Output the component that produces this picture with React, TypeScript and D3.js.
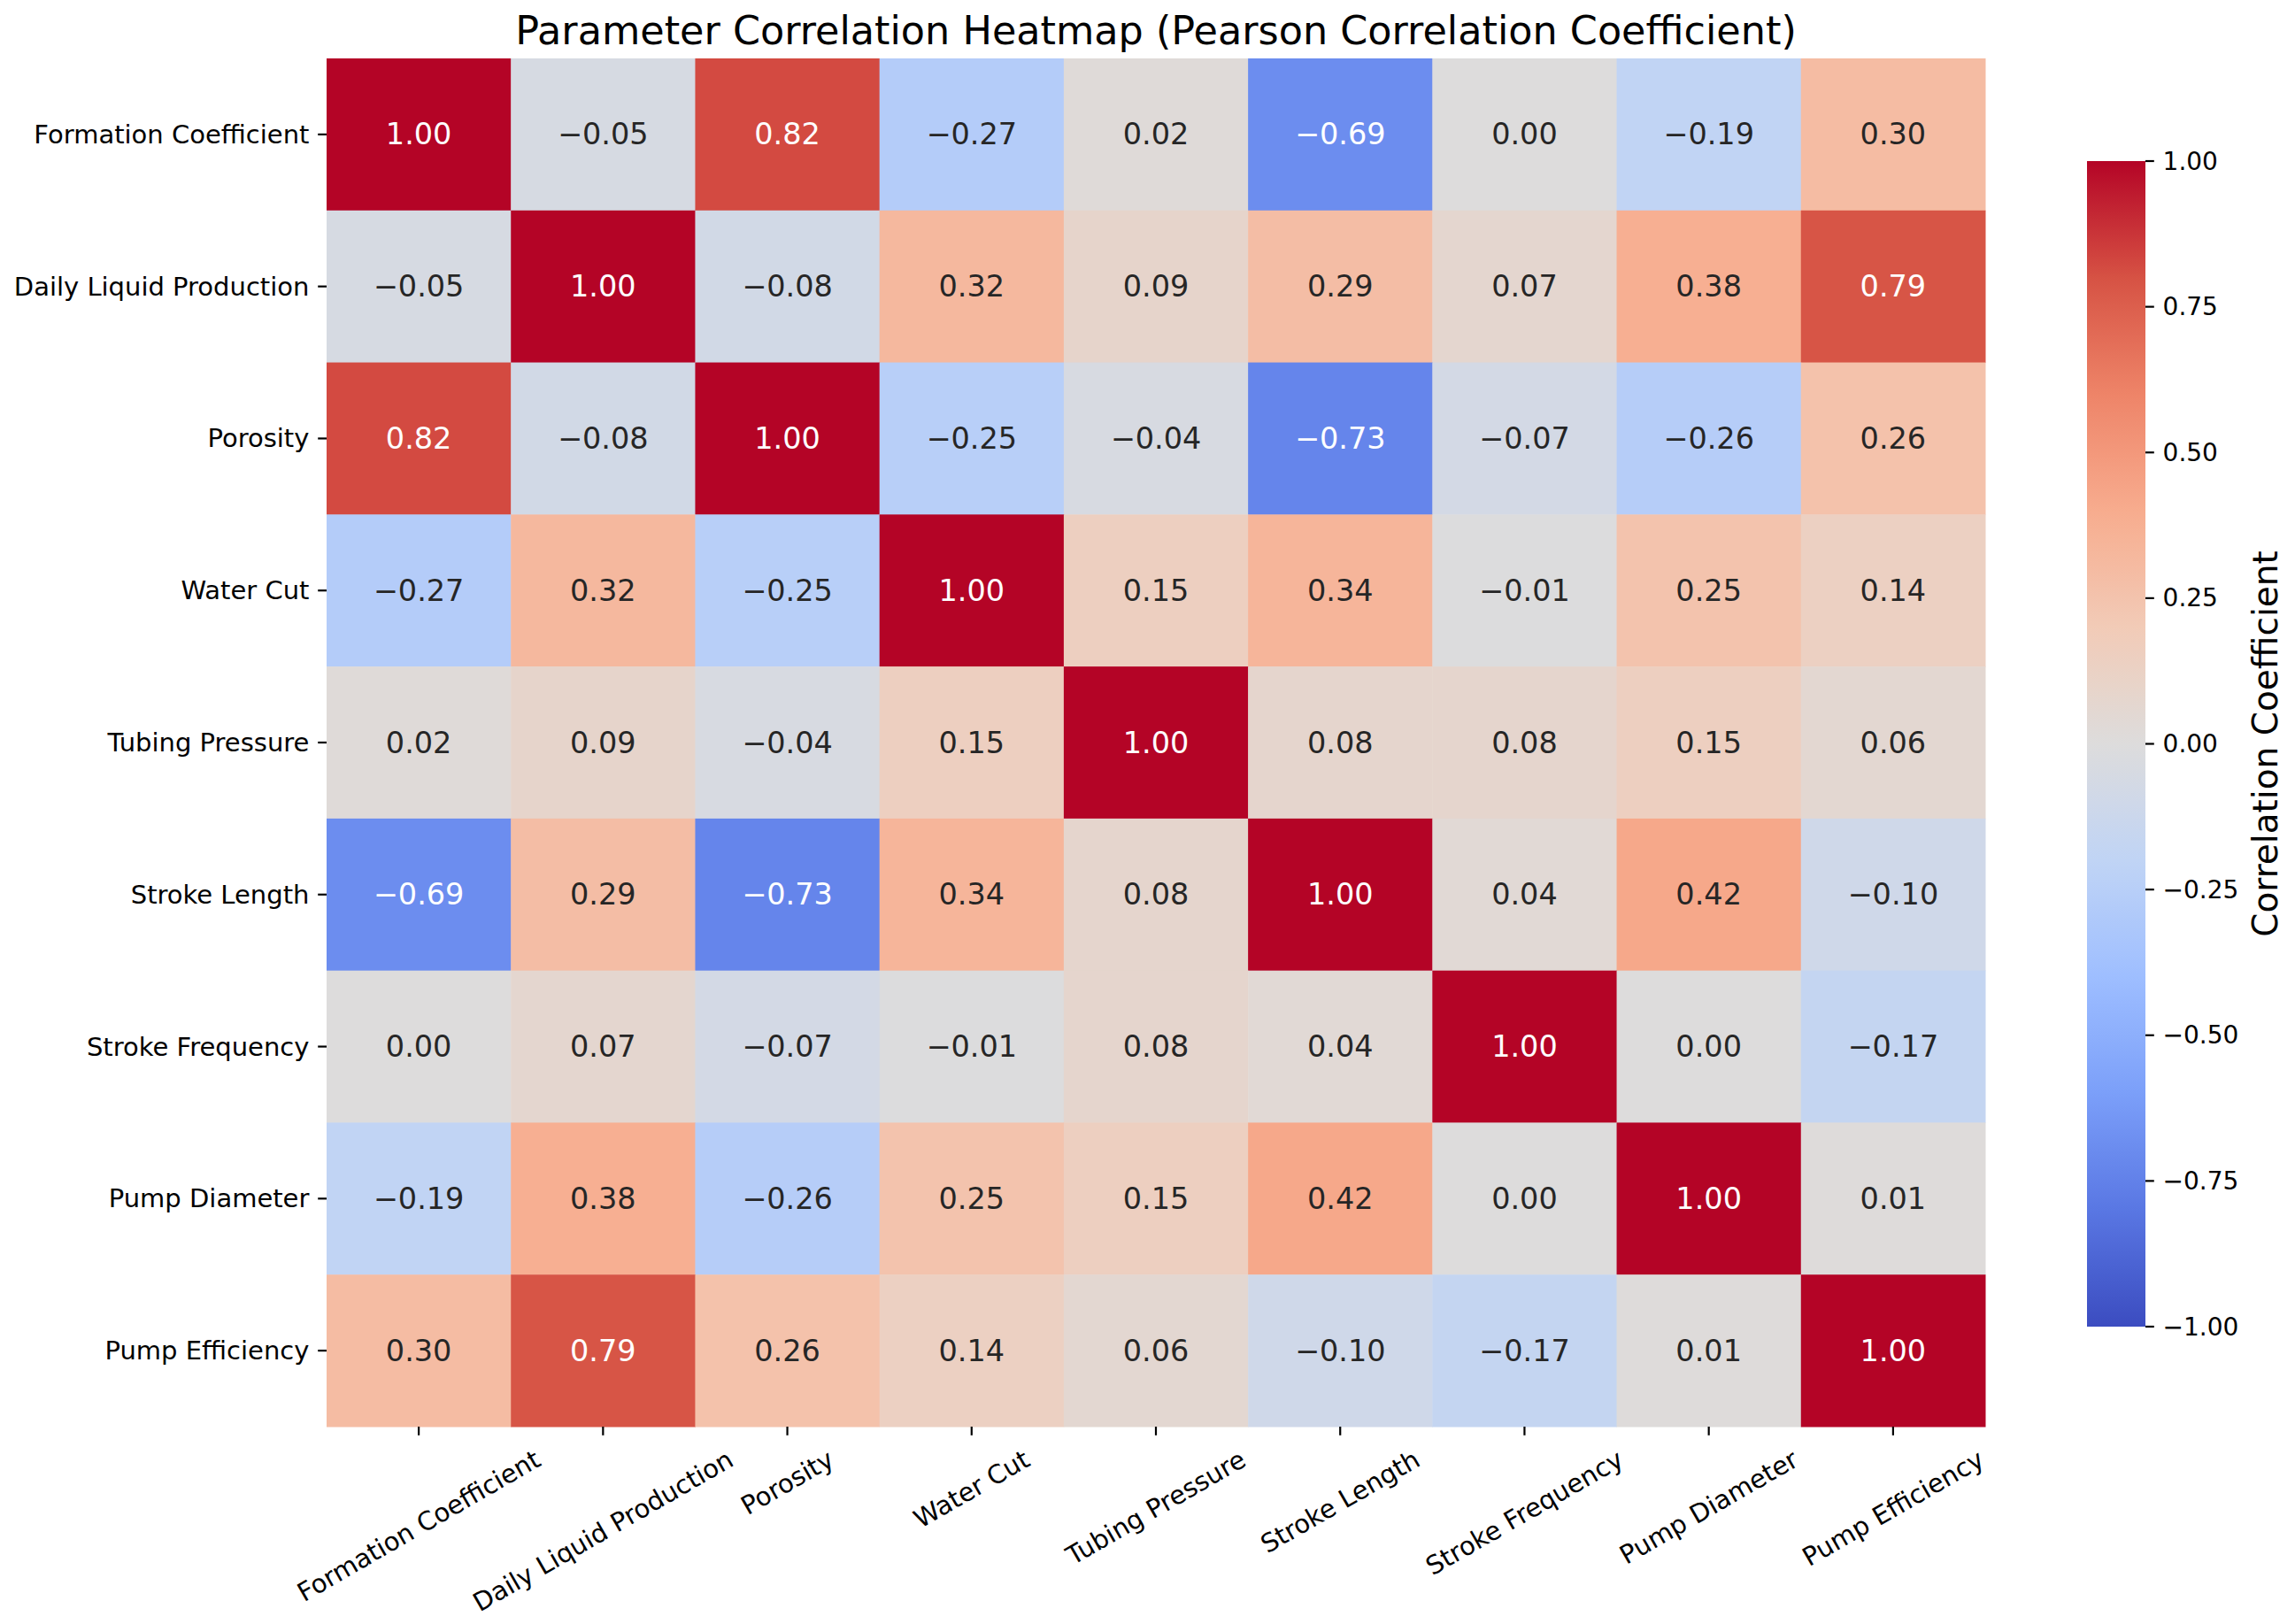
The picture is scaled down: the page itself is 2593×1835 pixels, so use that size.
import React from "react";
import * as d3 from "d3";

const labels = [
  "Formation Coefficient",
  "Daily Liquid Production",
  "Porosity",
  "Water Cut",
  "Tubing Pressure",
  "Stroke Length",
  "Stroke Frequency",
  "Pump Diameter",
  "Pump Efficiency",
];

const matrix: number[][] = [
  [1.0, -0.05, 0.82, -0.27, 0.02, -0.69, 0.0, -0.19, 0.3],
  [-0.05, 1.0, -0.08, 0.32, 0.09, 0.29, 0.07, 0.38, 0.79],
  [0.82, -0.08, 1.0, -0.25, -0.04, -0.73, -0.07, -0.26, 0.26],
  [-0.27, 0.32, -0.25, 1.0, 0.15, 0.34, -0.01, 0.25, 0.14],
  [0.02, 0.09, -0.04, 0.15, 1.0, 0.08, 0.08, 0.15, 0.06],
  [-0.69, 0.29, -0.73, 0.34, 0.08, 1.0, 0.04, 0.42, -0.1],
  [0.0, 0.07, -0.07, -0.01, 0.08, 0.04, 1.0, 0.0, -0.17],
  [-0.19, 0.38, -0.26, 0.25, 0.15, 0.42, 0.0, 1.0, 0.01],
  [0.3, 0.79, 0.26, 0.14, 0.06, -0.1, -0.17, 0.01, 1.0],
];

const colorbarTicks = [-1, -0.75, -0.5, -0.25, 0, 0.25, 0.5, 0.75, 1];

const titleText = "Parameter Correlation Heatmap (Pearson Correlation Coefficient)";
const colorbarLabel = "Correlation Coefficient";

// matplotlib "coolwarm" sampled at 11 points
const coolwarm = [
  "#3b4cc0", "#5977e3", "#7b9ff9", "#9ebeff", "#c0d4f5", "#dddcdc",
  "#f2cbb7", "#f7ac8e", "#ee8468", "#d65244", "#b40426",
];

const W = 2593;
const H = 1835;
const FONT = "'DejaVu Sans', sans-serif";

const fmt = (v: number, d: number) => {
  const s = Math.abs(v).toFixed(d);
  return v < 0 && Number(s) !== 0 ? "\u2212" + s : s;
};

let measureCtx: CanvasRenderingContext2D | null = null;
const measure = (s: string, size: number) => {
  if (!measureCtx && typeof document !== "undefined") {
    measureCtx = document.createElement("canvas").getContext("2d");
  }
  if (!measureCtx) return s.length * 0.53 * size;
  measureCtx.font = `${size}px 'DejaVu Sans', sans-serif`;
  return measureCtx.measureText(s).width;
};

export default function App() {
  const left = 369, right = 2243, top = 66, bottom = 1612;
  const x = d3.scaleBand<string>().domain(labels).range([left, right]).padding(0);
  const y = d3.scaleBand<string>().domain(labels).range([top, bottom]).padding(0);
  const color = d3
    .scaleLinear<string>()
    .domain(d3.range(11).map((i) => -1 + (i * 2) / 10))
    .range(coolwarm)
    .interpolate(d3.interpolateRgb)
    .clamp(true);

  const cbX = 2358, cbW = 66, cbTop = 182, cbBottom = 1499;
  const cbScale = d3.scaleLinear().domain([-1, 1]).range([cbBottom, cbTop]);
  const gradStops = d3.range(0, 41).map((i) => i / 40);

  const tickLen = 9.8, tickPad = 9.8;
  const tickFont = 29;
  const lum = (c: string) => {
    const rgb = d3.rgb(c);
    const f = (v: number) => {
      const s = v / 255;
      return s <= 0.03928 ? s / 12.92 : Math.pow((s + 0.055) / 1.055, 2.4);
    };
    return 0.2126 * f(rgb.r) + 0.7152 * f(rgb.g) + 0.0722 * f(rgb.b);
  };

  return (
    <svg
      width={W}
      height={H}
      viewBox={`0 0 ${W} ${H}`}
      style={{ position: "absolute", left: 0, top: 0, background: "#fff" }}
      fontFamily={FONT}
    >
      <defs>
        <linearGradient id="cbgrad" x1="0" y1="1" x2="0" y2="0">
          {gradStops.map((t) => (
            <stop key={t} offset={t} stopColor={color(-1 + 2 * t)} />
          ))}
        </linearGradient>
      </defs>
      <rect x={0} y={0} width={W} height={H} fill="#fff" />

      <text x={(left + right) / 2} y={50} textAnchor="middle" fontSize={44.5} fill="#000">
        {titleText}
      </text>

      {matrix.map((row, i) =>
        row.map((v, j) => {
          const c = color(v);
          const cx = x(labels[j])! + x.bandwidth() / 2;
          const cy = y(labels[i])! + y.bandwidth() / 2;
          return (
            <g key={`${i}-${j}`}>
              <rect
                x={x(labels[j])!}
                y={y(labels[i])!}
                width={x.bandwidth() + 0.5}
                height={y.bandwidth() + 0.5}
                fill={c}
              />
              <text
                x={cx}
                y={cy}
                textAnchor="middle"
                dominantBaseline="central"
                fontSize={33.5}
                fill={lum(c) < 0.408 ? "#ffffff" : "#262626"}
              >
                {fmt(v, 2)}
              </text>
            </g>
          );
        })
      )}

      {/* y axis ticks */}
      {labels.map((l) => {
        const cy = y(l)! + y.bandwidth() / 2;
        return (
          <g key={`y-${l}`}>
            <line x1={left - tickLen} x2={left} y1={cy} y2={cy} stroke="#000" strokeWidth={2.2} />
            <text
              x={left - tickLen - tickPad}
              y={cy}
              textAnchor="end"
              dominantBaseline="central"
              fontSize={tickFont}
              fill="#000"
            >
              {l}
            </text>
          </g>
        );
      })}

      {/* x axis ticks */}
      {labels.map((l) => {
        const cx = x(l)! + x.bandwidth() / 2;
        const ty = bottom + tickLen + tickPad;
        const w = measure(l, tickFont);
        const hgt = tickFont * 1.17;
        const ang = (30 * Math.PI) / 180;
        const bboxH = w * Math.sin(ang) + hgt * Math.cos(ang);
        const cyText = ty + bboxH / 2;
        return (
          <g key={`x-${l}`}>
            <line x1={cx} x2={cx} y1={bottom} y2={bottom + tickLen} stroke="#000" strokeWidth={2.2} />
            <text
              transform={`translate(${cx},${cyText}) rotate(-30)`}
              textAnchor="middle"
              dominantBaseline="central"
              fontSize={tickFont}
              fill="#000"
            >
              {l}
            </text>
          </g>
        );
      })}

      {/* colorbar */}
      <rect x={cbX} y={cbTop} width={cbW} height={cbBottom - cbTop} fill="url(#cbgrad)" />
      {colorbarTicks.map((t) => (
        <g key={`cb-${t}`}>
          <line
            x1={cbX + cbW}
            x2={cbX + cbW + tickLen}
            y1={cbScale(t)}
            y2={cbScale(t)}
            stroke="#000"
            strokeWidth={2.2}
          />
          <text
            x={cbX + cbW + tickLen + tickPad}
            y={cbScale(t)}
            dominantBaseline="central"
            fontSize={28}
            fill="#000"
          >
            {fmt(t, 2)}
          </text>
        </g>
      ))}
      <text
        transform={`translate(2559,${(cbTop + cbBottom) / 2}) rotate(-90)`}
        textAnchor="middle"
        dominantBaseline="central"
        fontSize={39}
        fill="#000"
      >
        {colorbarLabel}
      </text>
    </svg>
  );
}
